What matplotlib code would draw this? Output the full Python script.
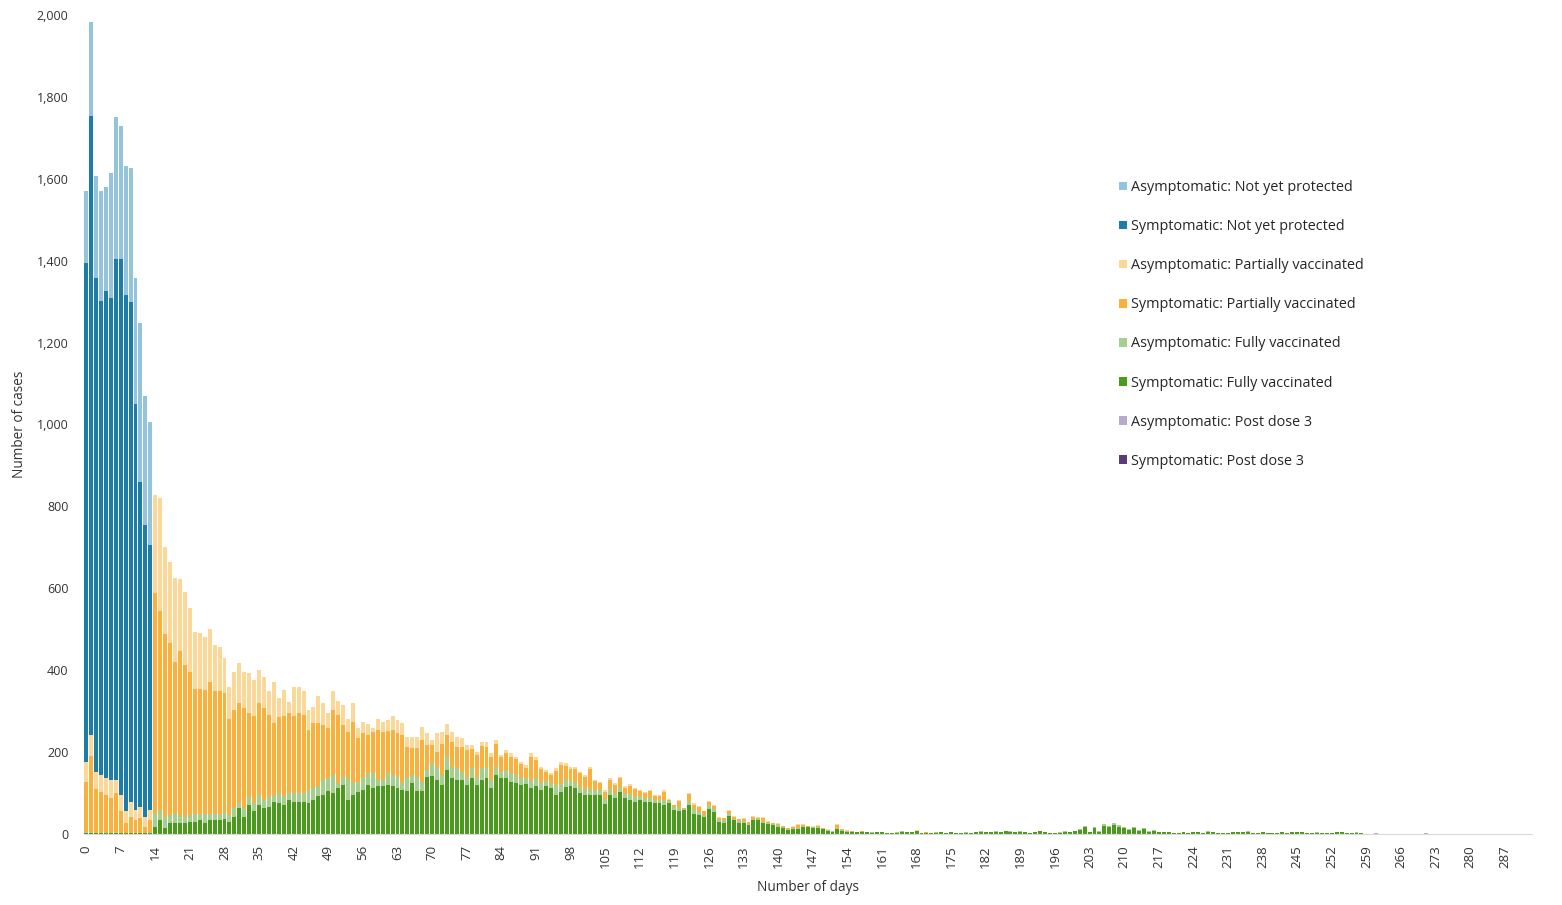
import numpy as np
import matplotlib
matplotlib.use('Agg')
import matplotlib.pyplot as plt
from matplotlib.patches import Patch
from matplotlib.ticker import FuncFormatter

plt.rcParams['font.family'] = ['Open Sans', 'DejaVu Sans']

n_days = 293
tick_days = list(range(0, 288, 7))

# not yet protected, days 0-13
sym_nyp = [1217, 1512, 1205, 1158, 1191, 1176, 1271, 1309, 1261, 1221, 992, 793, 713, 647]
asym_nyp = [176, 229, 250, 269, 254, 305, 348, 325, 315, 326, 306, 389, 315, 301]

# partially vaccinated, days 0-170
sym_partial = [124, 186, 108, 100, 91, 84, 95, 52, 23, 39, 31, 35, 15, 30,
               538, 486, 446, 420, 371, 401, 371, 350, 305, 305, 302, 320, 298, 301, 292,
               236, 241, 246, 244, 204, 212, 226, 224, 200, 175, 186, 194, 196, 188,
               196, 192, 147, 158, 154, 134, 122, 159, 167, 126, 114, 150, 106, 110, 94,
               102, 122, 118, 104, 110, 106, 118, 77, 65, 69, 102, 61, 44, 37, 77, 53, 61, 53, 61, 65,
               47, 53, 55, 53, 57, 56, 35, 41, 41, 39, 35, 26, 55, 45, 33, 22, 20, 35, 46, 33,
               28, 30, 33, 31, 47, 22, 17, 18, 23, 21, 21, 15, 21, 18, 11, 13, 15, 10, 10, 20,
               3, 5, 13, 1, 16, 12,
               11, 8, 10, 8, 6, 5, 6, 5, 4, 6, 4, 5, 4, 8, 3, 2, 4, 3, 2, 4, 6, 3, 2, 2, 3, 2, 1, 1, 8, 2, 1,
               1, 0, 1, 0, 0, 1, 0, 0, 1, 0, 0, 1, 0, 0, 0, 1]
asym_partial = [49, 52, 41, 41, 41, 45, 34, 40, 29, 37, 25, 29, 24, 25,
                240, 275, 214, 199, 203, 176, 179, 155, 139, 135, 130, 130, 113, 107, 85,
                78, 92, 96, 89, 97, 89, 79, 77, 57, 102, 46, 65, 28, 73,
                65, 57, 49, 41, 67, 53, 37, 47, 35, 49, 30, 45, 24, 28, 27,
                8, 28, 24, 26, 34, 32, 28, 25, 29, 27, 32, 29, 13, 45, 29, 26, 25, 25, 21, 12,
                10, 8, 10, 12, 8, 10, 6, 8, 8, 6, 6, 6, 10, 8, 6, 4, 4, 6, 8, 6,
                6, 6, 4, 4, 6, 4, 4, 4, 4, 4, 4, 4, 4, 3, 3, 3, 3, 2, 2, 4,
                1, 1, 3, 0, 4, 3,
                3, 2, 3, 2, 1, 1, 2, 1, 1, 2, 1, 1, 1, 3, 1, 1, 1, 1, 1, 1, 4, 1, 0, 1, 1, 0, 1, 0, 4, 0, 1,
                0, 1, 0, 0, 1, 0, 0, 0, 0, 1, 0, 0, 0, 1, 0, 0]

# fully vaccinated, days 0-260
sym_full = [3, 3, 2, 2, 3, 2, 3, 2, 2, 2, 2, 2, 2, 2,
            18, 34, 14, 26, 26, 26, 26, 30, 30, 34, 28, 33, 34, 33, 36,
            30, 42, 63, 42, 71, 55, 71, 63, 67, 79, 75, 71, 83, 79,
            79, 79, 75, 83, 93, 95, 106, 99, 112, 120, 83, 95, 103, 107, 120,
            112, 116, 117, 120, 116, 112, 107, 106, 124, 106, 106, 140, 142, 132, 120, 156, 136, 132, 132, 120,
            136, 120, 132, 136, 112, 144, 136, 136, 128, 124, 120, 122, 112, 116, 107, 116, 112, 95, 103, 114,
            116, 112, 99, 95, 95, 95, 95, 73, 95, 87, 103, 87, 83, 79, 83, 77, 79, 75, 75, 71,
            75, 59, 57, 59, 71, 50,
            46, 41, 60, 54, 30, 28, 44, 33, 28, 26, 22, 33, 33, 26, 24, 22, 18, 14, 10, 11, 11, 18, 16, 14, 14, 11, 8, 6, 11, 8, 6,
            5, 4, 6, 5, 3, 4,
            4, 3, 2, 3, 6, 5, 4, 7, 2, 3,
            2, 3, 4, 2, 4, 3, 2, 3, 2, 5,
            6, 5, 4, 6, 5, 7, 6, 5, 6, 4,
            3, 5, 7, 4, 2, 3, 3, 6, 6, 7,
            10, 16, 4, 14, 6, 20, 16, 22, 18, 14,
            10, 14, 8, 12, 6, 8, 5, 4, 5, 3,
            3, 4, 2, 4, 5, 3, 6, 4, 3, 2,
            3, 5, 4, 4, 6, 3, 2, 5, 3, 3,
            2, 4, 3, 5, 4, 4, 3, 2, 3, 2,
            2, 3, 4, 5, 3, 2, 3, 1, 1, 0]
asym_full = [1, 1, 1, 1, 1, 1, 1, 1, 1, 1, 1, 1, 1, 2,
             32, 25, 28, 20, 24, 20, 16, 16, 20, 16, 22, 17, 16, 16, 16,
             16, 21, 12, 21, 20, 20, 24, 20, 24, 16, 24, 22, 16, 20,
             20, 20, 32, 29, 23, 37, 30, 45, 12, 20, 53, 29, 25, 29, 28,
             36, 16, 15, 28, 28, 28, 17, 30, 20, 34, 22, 16, 31, 32, 24, 33, 28, 28, 20, 20,
             24, 20, 28, 24, 20, 20, 16, 20, 20, 20, 16, 14, 20, 20, 18, 14, 12, 24, 20, 20,
             14, 16, 16, 14, 16, 12, 12, 12, 14, 12, 12, 10, 14, 12, 10, 10, 10, 8, 8, 12,
             6, 6, 10, 3, 10, 10,
             8, 6, 8, 6, 4, 5, 6, 4, 4, 5, 3, 4, 3, 4, 3, 2, 3, 2, 2, 3, 4, 2, 2, 2, 3, 2, 1, 1, 2, 1, 1,
             1, 1, 0, 1, 1, 0, 1, 0, 0, 1, 1, 0, 1, 1, 0, 0,
             0, 1, 0, 0, 1, 0, 0, 1, 0, 1,
             1, 0, 1, 1, 0, 1, 1, 0, 1, 0,
             0, 1, 1, 0, 0, 0, 1, 1, 0, 1,
             2, 3, 1, 2, 1, 4, 3, 4, 3, 2,
             2, 2, 1, 2, 1, 1, 1, 0, 1, 0,
             0, 1, 0, 1, 1, 0, 1, 0, 0, 0,
             0, 1, 1, 0, 1, 0, 0, 1, 0, 0,
             0, 1, 0, 1, 0, 1, 0, 0, 1, 0,
             0, 0, 1, 1, 0, 0, 1, 0, 0, 0]

# post dose 3, days 255-275
sym_pd3 = [0, 0, 0, 1, 0, 0, 1, 0, 0, 0, 0, 0, 0, 0, 0, 0, 0, 0, 0, 0, 0]
asym_pd3 = [0, 0, 0, 0, 0, 0, 2, 0, 0, 0, 0, 0, 0, 0, 0, 0, 2, 0, 0, 0, 0]


def pad(vals, start=0):
    out = np.zeros(n_days)
    out[start:start + len(vals)] = vals
    return out


days = np.arange(n_days)
series = [
    ('Symptomatic: Post dose 3', pad(sym_pd3, 255), '#5B3A78'),
    ('Asymptomatic: Post dose 3', pad(asym_pd3, 255), '#B8AACB'),
    ('Symptomatic: Fully vaccinated', pad(sym_full), '#4A9A1B'),
    ('Asymptomatic: Fully vaccinated', pad(asym_full), '#A5CF8F'),
    ('Symptomatic: Partially vaccinated', pad(sym_partial), '#FBB03B'),
    ('Asymptomatic: Partially vaccinated', pad(asym_partial), '#FCD898'),
    ('Symptomatic: Not yet protected', pad(sym_nyp), '#1B7DA8'),
    ('Asymptomatic: Not yet protected', pad(asym_nyp), '#93C4DC'),
]

fig = plt.figure(figsize=(15.62, 9.05), dpi=100)
ax = fig.add_axes([83.6 / 1562, 1 - 834 / 905, (1532 - 83.6) / 1562, 819 / 905])

bottom = np.zeros(n_days)
handles = []
for label, vals, color in series:
    ax.bar(days, vals, bottom=bottom, width=0.8, color=color, linewidth=0)
    bottom += vals
    handles.append(Patch(facecolor=color, label=label))

ax.set_xlim(-0.5, 292.5)
ax.set_ylim(0, 2000)
ax.set_yticks(range(0, 2001, 200))
ax.yaxis.set_major_formatter(FuncFormatter(lambda v, p: f'{int(v):,}'))
ax.set_xticks(tick_days)
ax.set_xticklabels([str(d) for d in tick_days], rotation=90)
ax.tick_params(axis='y', length=0, pad=11, labelsize=9, labelcolor='#333333')
ax.tick_params(axis='x', length=0, pad=8, labelsize=9.5, labelcolor='#333333')
for s in ['top', 'right', 'left']:
    ax.spines[s].set_visible(False)
ax.spines['bottom'].set_color('#d9d9d9')
ax.spines['bottom'].set_linewidth(0.8)

ax.set_xlabel('Number of days', fontsize=9.8, color='#333333', labelpad=9)
ax.set_ylabel('Number of cases', fontsize=9.8, color='#333333', labelpad=7)

fig.legend(handles=handles[::-1], loc='upper left',
           bbox_to_anchor=(1119 / 1562, 1 - 180 / 905), frameon=False,
           fontsize=10.4, handlelength=0.55, handleheight=0.55, handletextpad=0.3,
           labelspacing=1.67, borderpad=0, borderaxespad=0, labelcolor='#262626')

fig.savefig('out.png', dpi=100, facecolor='white')
